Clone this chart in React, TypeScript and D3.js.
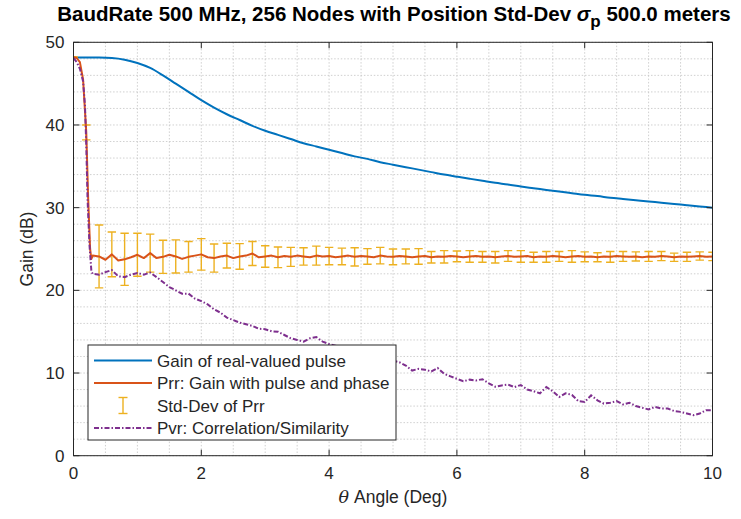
import React from "react";
import * as d3 from "d3";

// ---------- data ----------
const blueTheta = [0,0.2,0.4,0.6,0.8,1.0,1.2,1.4,1.6,1.8,2.0,2.2,2.4,2.6,2.8,3.0,3.2,3.4,3.6,3.8,4.0,4.2,4.4,4.6,4.8,5.0,5.2,5.4,5.6,5.8,6.0,6.2,6.4,6.6,6.8,7.0,7.2,7.4,7.6,7.8,8.0,8.2,8.4,8.6,8.8,9.0,9.2,9.4,9.6,9.8,10.0];
const blueGain = [48.16,48.16,48.15,48.1,47.9,47.5,46.9,46.0,45.0,44.0,43.0,42.1,41.3,40.6,39.9,39.3,38.8,38.3,37.8,37.4,37.0,36.6,36.2,35.9,35.5,35.2,34.9,34.6,34.3,34.0,33.75,33.5,33.25,33.0,32.8,32.55,32.35,32.15,31.95,31.75,31.55,31.4,31.2,31.05,30.9,30.75,30.6,30.45,30.3,30.15,30.0];

const sampleTheta = d3.range(3, 101).map((i) => i / 10); // 0.3 .. 10.0

const prrTheta = [0,0.05,0.1,0.15,0.2,0.23,0.26,0.28, ...sampleTheta];
const prrGain = [48.2,48.1,47.6,45.5,39.1,31.0,25.0,23.8,
  24.2,24.1,23.7,24.35,23.6,23.75,24.0,24.3,23.9,24.5,
  23.9,24.05,24.3,24.1,23.8,24.05,24.2,24.35,24.0,23.9,
  24.1,24.2,23.9,24.1,24.2,24.45,24.0,24.1,24.2,24.0,
  24.15,24.05,24.2,24.1,24.0,24.2,24.1,24.15,24.0,24.1,
  24.2,24.05,24.15,24.1,24.0,24.2,24.1,24.05,24.15,24.1,
  24.0,24.1,24.15,24.0,24.1,24.05,24.15,24.1,24.0,24.1,
  24.15,24.05,24.1,24.0,24.1,24.15,24.05,24.1,24.15,24.0,
  24.1,24.05,24.15,24.1,24.0,24.1,24.15,24.05,24.1,24.0,
  24.1,24.05,24.15,24.1,24.05,24.1,24.0,24.1,24.05,24.15,
  24.1,24.0,24.1,24.05,24.1,24.15,24.05,24.1];

const errTheta = [0,0.2,0.4,0.6,0.8,1.0,1.2,1.4,1.6,1.8,2.0,2.2,2.4,2.6,2.8,3.0,3.2,3.4,3.6,3.8,4.0,4.2,4.4,4.6,4.8,5.0,5.2,5.4,5.6,5.8,6.0,6.2,6.4,6.6,6.8,7.0,7.2,7.4,7.6,7.8,8.0,8.2,8.4,8.6,8.8,9.0,9.2,9.4,9.6,9.8,10.0];
const errHalf = [0.05,0.9,3.8,2.7,3.15,2.6,2.3,2.0,2.0,1.85,1.9,1.7,1.5,1.55,1.45,1.3,1.25,1.15,1.05,1.15,1.05,1.0,1.1,0.95,1.0,0.95,0.9,0.95,0.7,0.75,0.65,0.7,0.65,0.7,0.65,0.7,0.6,0.65,0.6,0.7,0.6,0.55,0.65,0.6,0.55,0.6,0.55,0.5,0.55,0.5,0.5];

const pvrTheta = [0,0.05,0.1,0.15,0.18,0.2,0.22,0.25,0.28, ...sampleTheta];
const pvrGain = [48.1,47.6,46.8,45.3,42.3,37.5,31.0,25.5,22.3,
  22.0,21.9,22.2,22.45,21.7,21.6,21.9,22.1,21.9,22.15,
  21.6,21.0,20.4,20.0,19.6,19.6,19.0,18.7,18.3,17.7,
  17.3,16.7,16.4,16.1,15.9,15.7,15.35,15.3,15.05,15.0,
  14.6,14.2,14.0,13.8,14.2,14.35,13.8,13.5,13.3,13.1,
  13.0,12.7,12.5,12.3,12.1,11.9,11.7,11.5,11.3,10.9,
  10.3,10.5,10.4,10.2,10.6,9.9,9.6,9.3,9.0,9.2,
  9.1,9.25,8.75,8.35,8.5,8.6,8.3,8.55,8.0,7.8,
  7.55,8.3,7.8,7.1,7.55,7.35,6.6,6.5,7.3,6.7,
  6.3,6.4,6.6,6.2,6.4,6.0,5.8,5.6,5.9,5.7,
  5.7,5.4,5.3,5.1,4.9,5.1,5.5,5.5];

const xTicks = [0, 2, 4, 6, 8, 10];
const yTicks = [0, 10, 20, 30, 40, 50];
const legendLabels = [
  "Gain of real-valued pulse",
  "Prr: Gain with pulse and phase",
  "Std-Dev of Prr",
  "Pvr: Correlation/Similarity",
];

// ---------- styles ----------
const W = 741, H = 519;
const L = 73.5, R = 712.5, T = 42.3, B = 455.7;
const FONT = "'Liberation Sans', Arial, Helvetica, sans-serif";
const C_BLUE = "#0072BD", C_ORANGE = "#D95319", C_YELLOW = "#EDB120", C_PURPLE = "#7E2F8E";
const AX = "#262626";

export default function App() {
  const x = d3.scaleLinear().domain([0, 10]).range([L, R]);
  const y = d3.scaleLinear().domain([0, 50]).range([B, T]);
  const line = d3.line<[number, number]>().x((d) => x(d[0])).y((d) => y(d[1]));

  const bluePts = blueTheta.map((t, i) => [t, blueGain[i]] as [number, number]);
  const prrPts = prrTheta.map((t, i) => [t, prrGain[i]] as [number, number]);
  const pvrPts = pvrTheta.map((t, i) => [t, pvrGain[i]] as [number, number]);
  const smooth = d3.line<[number, number]>().x((d) => x(d[0])).y((d) => y(d[1])).curve(d3.curveMonotoneX);

  const centerAt = (t: number) => {
    let best = 0;
    prrTheta.forEach((v, i) => { if (Math.abs(v - t) < Math.abs(prrTheta[best] - t)) best = i; });
    return prrGain[best];
  };

  const xMinor = d3.range(0, 10.001, 0.5);
  const yMinor = d3.range(0, 50.001, 2);
  const tick = 6;
  const cap = 4.2;

  const legX = 88, legY = 345, legW = 308, legH = 95;
  const rowY = [360.5, 383, 405.5, 428];

  return (
    <div style={{ position: "absolute", left: 0, top: 0 }}>
      <svg width={W} height={H} style={{ display: "block", background: "#fff" }} fontFamily={FONT}>
        <rect x={0} y={0} width={W} height={H} fill="#fff" />
        <rect x={L} y={T} width={R - L} height={B - T} fill="#fff" />
        {/* grid */}
        <g stroke="#c4c4c4" strokeWidth={0.8} strokeDasharray="1.5,1.8">
          {xMinor.map((v) => (
            <line key={"gx" + v} x1={x(v)} x2={x(v)} y1={T} y2={B} />
          ))}
          {yMinor.map((v) => (
            <line key={"gy" + v} x1={L} x2={R} y1={y(v)} y2={y(v)} />
          ))}
        </g>
        <defs>
          <clipPath id="plotclip">
            <rect x={L} y={T} width={R - L} height={B - T} />
          </clipPath>
        </defs>
        <g clipPath="url(#plotclip)">
          <path d={smooth(bluePts) || ""} fill="none" stroke={C_BLUE} strokeWidth={2} />
          {/* error bars */}
          <g stroke={C_YELLOW} strokeWidth={1.4}>
            {errTheta.map((t, i) => {
              const c = centerAt(t);
              const cx = x(t);
              const y1 = y(c + errHalf[i]);
              const y2 = y(c - errHalf[i]);
              return (
                <g key={"e" + i}>
                  <line x1={cx} x2={cx} y1={y1} y2={y2} />
                  <line x1={cx - cap} x2={cx + cap} y1={y1} y2={y1} />
                  <line x1={cx - cap} x2={cx + cap} y1={y2} y2={y2} />
                </g>
              );
            })}
          </g>
          <path d={line(prrPts) || ""} fill="none" stroke={C_ORANGE} strokeWidth={2} strokeLinejoin="round" />
          <path d={line(pvrPts) || ""} fill="none" stroke={C_PURPLE} strokeWidth={2} strokeDasharray="5,2,1.5,2" />
        </g>
        {/* axes box */}
        <rect x={L} y={T} width={R - L} height={B - T} fill="none" stroke={AX} strokeWidth={1} />
        <g stroke={AX} strokeWidth={1}>
          {xTicks.map((v) => (
            <g key={"xt" + v}>
              <line x1={x(v)} x2={x(v)} y1={B} y2={B - tick} />
              <line x1={x(v)} x2={x(v)} y1={T} y2={T + tick} />
            </g>
          ))}
          {yTicks.map((v) => (
            <g key={"yt" + v}>
              <line x1={L} x2={L + tick} y1={y(v)} y2={y(v)} />
              <line x1={R} x2={R - tick} y1={y(v)} y2={y(v)} />
            </g>
          ))}
        </g>
        <g fill={AX} fontSize={17}>
          {xTicks.map((v) => (
            <text key={"xl" + v} x={x(v)} y={B + 23} textAnchor="middle">{v}</text>
          ))}
          {yTicks.map((v) => (
            <text key={"yl" + v} x={L - 9} y={y(v) + 6} textAnchor="end">{v}</text>
          ))}
        </g>
        {/* axis labels */}
        <text x={(L + R) / 2} y={503} textAnchor="middle" fontSize={17.5} fill={AX}>
          <tspan fontStyle="italic" fontFamily="'DejaVu Serif', serif">θ</tspan> Angle (Deg)
        </text>
        <text transform={`translate(33,${(T + B) / 2}) rotate(-90)`} textAnchor="middle" fontSize={17.5} fill={AX}>
          Gain (dB)
        </text>
        {/* title */}
        <text x={394} y={21} textAnchor="middle" fontSize={20.5} fontWeight="bold" fill="#000">
          BaudRate 500 MHz, 256 Nodes with Position Std-Dev{" "}
          <tspan fontStyle="italic">σ</tspan>
          <tspan dy={6} fontSize={17}>p</tspan>
          <tspan dy={-6}> 500.0 meters</tspan>
        </text>
        {/* legend */}
        <rect x={legX} y={legY} width={legW} height={legH} fill="#fff" stroke={AX} strokeWidth={1} />
        <line x1={94} x2={152} y1={rowY[0]} y2={rowY[0]} stroke={C_BLUE} strokeWidth={2} />
        <line x1={94} x2={152} y1={rowY[1]} y2={rowY[1]} stroke={C_ORANGE} strokeWidth={2} />
        <g stroke={C_YELLOW} strokeWidth={1.4}>
          <line x1={123} x2={123} y1={rowY[2] - 8} y2={rowY[2] + 8} />
          <line x1={118.5} x2={127.5} y1={rowY[2] - 8} y2={rowY[2] - 8} />
          <line x1={118.5} x2={127.5} y1={rowY[2] + 8} y2={rowY[2] + 8} />
        </g>
        <line x1={94} x2={152} y1={rowY[3]} y2={rowY[3]} stroke={C_PURPLE} strokeWidth={2} strokeDasharray="5,2,1.5,2" />
        <g fontSize={17} fill={AX}>
          {legendLabels.map((s, i) => (
            <text key={s} x={157} y={rowY[i] + 6}>{s}</text>
          ))}
        </g>
      </svg>
    </div>
  );
}
